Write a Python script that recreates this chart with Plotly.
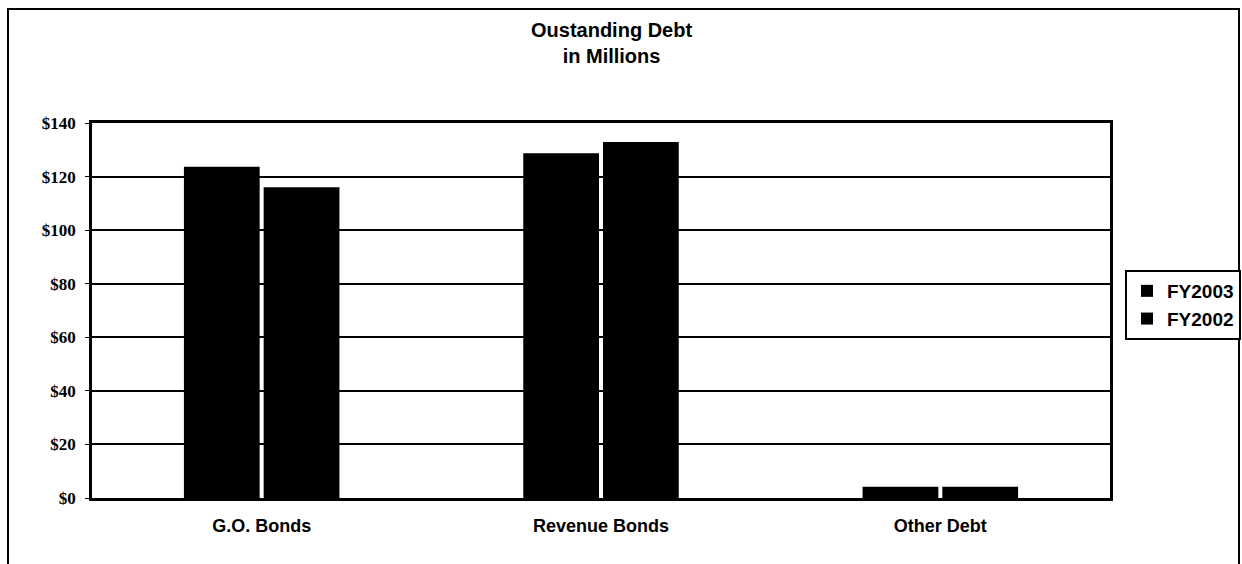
import plotly.graph_objects as go

categories = ["G.O. Bonds", "Revenue Bonds", "Other Debt"]
fy2003 = [123.7, 128.7, 4.2]
fy2002 = [116.0, 132.9, 4.2]
series_names = ["FY2003", "FY2002"]
y_ticks = [0, 20, 40, 60, 80, 100, 120, 140]
y_tick_labels = ["$" + str(v) for v in y_ticks]

W, H = 1242, 564
L, R, T, B = 92, 132, 123, 66
pw, ph = W - L - R, H - T - B

def px_x(x):
    return (x - L) / pw

def px_y(y):
    return (H - B - y) / ph

fig = go.Figure()
for name, vals in zip(series_names, [fy2003, fy2002]):
    fig.add_trace(go.Bar(
        x=categories, y=vals, name=name,
        marker=dict(color="black", line=dict(color="black", width=0)),
    ))

fig.update_layout(
    width=W, height=H,
    margin=dict(l=L, r=R, t=T, b=B, pad=0, autoexpand=False),
    paper_bgcolor="white", plot_bgcolor="white",
    barmode="group", bargap=0.53, bargroupgap=0.05,
    showlegend=True,
    legend=dict(
        x=px_x(1125), y=px_y(270), xanchor="left", yanchor="top",
        bordercolor="black", borderwidth=2, bgcolor="white",
        font=dict(family="Liberation Sans, Arial", size=19, color="black", weight="bold"),
        itemsizing="constant",
    ),
    font=dict(family="Liberation Sans, Arial", color="black"),
)

fig.update_yaxes(
    range=[0, 140], tickvals=y_ticks, ticktext=y_tick_labels,
    showgrid=True, gridcolor="black", gridwidth=1.5,
    showline=True, linecolor="black", linewidth=2.5, mirror=True,
    ticks="outside", ticklen=4, tickcolor="black", tickwidth=1,
    ticklabelstandoff=6, automargin=False,
    tickfont=dict(family="Liberation Serif, Times New Roman", size=17, color="black", weight="bold"),
    zeroline=False,
)
fig.update_xaxes(
    showline=True, linecolor="black", linewidth=2.5, mirror=True,
    ticks="", showgrid=False, ticklabelstandoff=10, automargin=False,
    tickfont=dict(family="Liberation Sans, Arial", size=18, color="black", weight="bold"),
)

fig.add_annotation(
    xref="paper", yref="paper", x=px_x(611), y=px_y(43), xanchor="center", yanchor="middle",
    text="<b>Oustanding Debt</b><br><b>in Millions</b>", showarrow=False,
    font=dict(family="Liberation Sans, Arial", size=20, color="black"),
)

fig.add_shape(
    type="rect", xref="paper", yref="paper",
    x0=px_x(8), x1=px_x(1239), y0=px_y(600), y1=px_y(9),
    line=dict(color="black", width=2), fillcolor="rgba(0,0,0,0)", layer="below",
)

fig.write_html(
    "out.html",
    config={"displayModeBar": False, "responsive": False},
    post_script="document.body.style.margin='0';document.body.style.overflow='hidden';document.documentElement.style.overflow='hidden';",
)
